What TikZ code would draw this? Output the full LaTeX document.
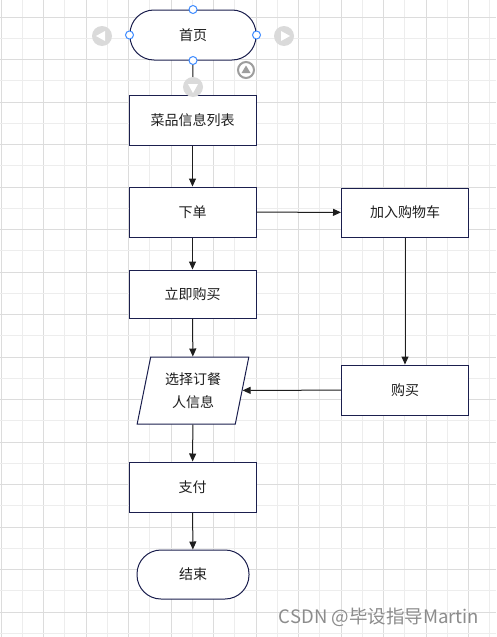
\documentclass[tikz,border=0pt]{standalone}
\usepackage{fontspec}
\setmainfont{Noto Sans CJK SC}
\usetikzlibrary{arrows.meta,positioning,shapes.geometric}

\definecolor{navy}{HTML}{1B1F4E}
\definecolor{linecol}{HTML}{1E1E1E}
\definecolor{gridminor}{HTML}{EDEDED}
\definecolor{gridmajor}{HTML}{DCDCDC}
\definecolor{handleblue}{HTML}{3D8BFF}
\definecolor{btngray}{HTML}{DADADA}
\definecolor{ringgray}{HTML}{9E9E9E}
\definecolor{markgray}{HTML}{8C8C8C}

\tikzset{
  procbox/.style={draw=navy, fill=white, line width=1pt, minimum width=127, minimum height=50, inner sep=0pt, text=linecol},
  termbox/.style={procbox, rounded corners=24},
  iobox/.style={procbox, trapezium, trapezium left angle=76, trapezium right angle=104, trapezium stretches=true, minimum width=112, minimum height=67, align=center, font=\fontsize{14}{23}\selectfont},
  flow/.style={->, draw=linecol, line width=1pt},
  handle/.style={draw=handleblue, fill=white, line width=1pt},
}

\begin{document}
\begin{tikzpicture}[x=1pt, y=-1pt, >={Triangle[length=8pt,width=7pt]}, font=\fontsize{14}{20}\selectfont]

\useasboundingbox[fill=white] (0,0) rectangle (496,637);

% Grid
\foreach \k in {0,...,11} {
  \draw[gridminor, line width=0.8pt] (22.25+42.5*\k,0) -- (22.25+42.5*\k,637);
  \draw[gridmajor, line width=0.8pt] (1+42.5*\k,0) -- (1+42.5*\k,637);
}
\foreach \k in {0,...,14} {
  \draw[gridminor, line width=0.8pt] (0,38.25+42.5*\k) -- (496,38.25+42.5*\k);
  \draw[gridmajor, line width=0.8pt] (0,17+42.5*\k) -- (496,17+42.5*\k);
}

% Steps
\node[termbox, minimum width=126] (home) at (193,35) {首页};
\node[procbox] (menu) at (192.5,120) {菜品信息列表};
\node[procbox] (order) at (192.5,212) {下单};
\node[procbox, minimum height=49] (cart) at (405,212.5) {加入购物车};
\node[procbox, minimum height=48] (buynow) at (192.5,294) {立即购买};
\node[iobox] (info) at (193,390.5) {选择订餐\\人信息};
\node[procbox] (buy) at (405,390) {购买};
\node[procbox] (pay) at (192.5,487) {支付};
\node[termbox, minimum width=112, minimum height=49] (end) at (193,574.5) {结束};

% Connectors
\draw[flow] (home) -- (menu);
\draw[flow] (menu) -- (order);
\draw[flow] (order) -- (cart);
\draw[flow] (cart) -- (buy);
\draw[flow] (buy) -- (info);
\draw[flow] (order) -- (buynow);
\draw[flow] (buynow) -- (info);
\draw[flow] (info) -- (pay);
\draw[flow] (pay) -- (end);

% Selection handles
\foreach \a in {north, west, east, south}
  \draw[handle] (home.\a) circle (4);

% Gray buttons
\fill[btngray] (102,36) circle (10);
\fill[white] (96,36) -- (105,31) -- (105,41) -- cycle;
\fill[btngray] (284,36) circle (10);
\fill[white] (290,36) -- (281,31) -- (281,41) -- cycle;
\fill[btngray] (193,87) circle (10);
\fill[white] (193,93) -- (188,84) -- (198,84) -- cycle;
\draw[ringgray, line width=2pt] (246,70) circle (8);
\fill[ringgray] (246,65.5) -- (241.5,73) -- (250.5,73) -- cycle;

% Watermark
\node[text=markgray, font=\fontsize{18.5}{18.5}\selectfont] (mark) at (379,617) {CSDN @毕设指导Martin};

\end{tikzpicture}
\end{document}
